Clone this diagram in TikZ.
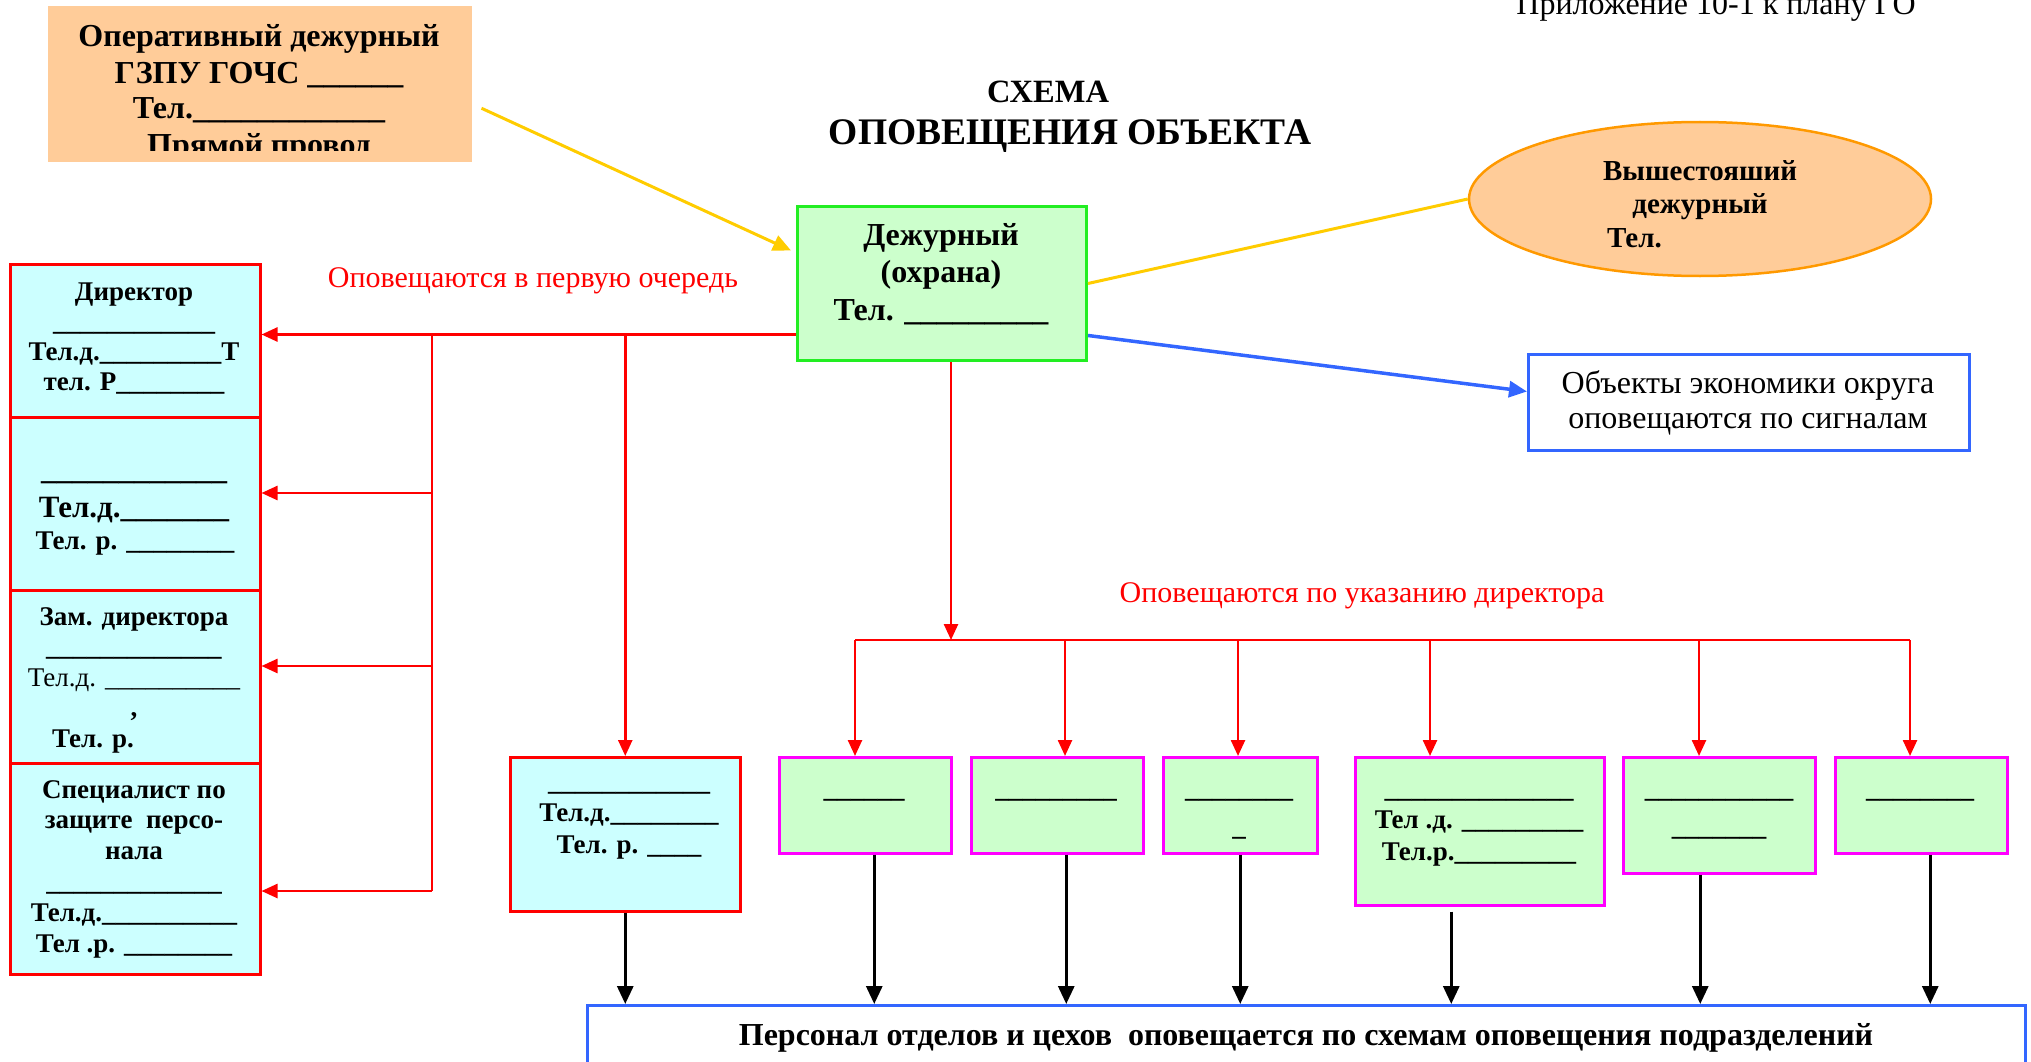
\documentclass[tikz,border=0pt]{standalone}
\usepackage{fontspec}
\setmainfont{Liberation Serif}
\usetikzlibrary{arrows.meta,shapes.geometric}
\definecolor{cOrange}{HTML}{FFCC99}
\definecolor{cOrangeLine}{HTML}{FF9900}
\definecolor{cGreen}{HTML}{CCFFCC}
\definecolor{cGreenLine}{HTML}{22EE22}
\definecolor{cCyan}{HTML}{CCFFFF}
\definecolor{cRed}{HTML}{FF0000}
\definecolor{cMag}{HTML}{FF00FF}
\definecolor{cBlue}{HTML}{3366FF}
\definecolor{cYellow}{HTML}{FFCC00}
\newcommand\fsz[2]{\fontsize{#1}{#2}\selectfont}
\ExplSyntaxOn
\newcommand\blanks[1]{\prg_replicate:nn{#1}{\textunderscore}}
\ExplSyntaxOff
\begin{document}
\begin{tikzpicture}[x=1pt,y=-1pt,
  box/.style={draw, line width=2.5pt, inner sep=0pt, anchor=north west},
  cbox/.style={box, draw=cRed, fill=cCyan},
  gbox/.style={box, draw=cMag, fill=cGreen},
  txt/.style={inner sep=0pt, anchor=base, align=center},
  redln/.style={draw=cRed, line width=2.5pt},
  redar/.style={redln, -{Triangle[length=16pt,width=14pt]}},
  blkar/.style={draw=black, line width=3pt, -{Triangle[length=18pt,width=16pt]}},
  yelln/.style={draw=cYellow, line width=3pt},
  bluar/.style={draw=cBlue, line width=3.5pt, -{Triangle[length=18pt,width=16pt]}}]
\useasboundingbox (0,0) rectangle (2031,1062);

% header box
\node[box, draw=none, fill=cOrange, minimum width=424, minimum height=156] (gzpu) at (47,5) {};
\begin{scope}
  \clip (47,5) rectangle (471,150);
  \node[txt, font=\bfseries\fsz{32}{36}] (gzpu-t) at (259,155) {Оперативный дежурный\\ГЗПУ ГОЧС \blanks{6}\\Тел.\blanks{12}\\Прямой провод};
\end{scope}

% titles
\node[txt, font=\bfseries\fsz{32.5}{36}] (t1) at (1048,103) {СХЕМА};
\node[txt, font=\bfseries\fsz{37.5}{42}] (t2) at (1070,144) {ОПОВЕЩЕНИЯ ОБЪЕКТА};
\node[txt, font=\fsz{32}{36}] (app) at (1716,15) {Приложение 10-1 к плану ГО};

% duty
\node[box, draw=cGreenLine, line width=3pt, fill=cGreen, minimum width=289, minimum height=154] (duty) at (796,205) {};
\node[txt, font=\bfseries\fsz{32}{37.5}] (duty-t) at (941,320) {Дежурный\\(охрана)\\Тел. \blanks{9}};

% upper duty ellipse
\node[ellipse, draw=cOrangeLine, fill=cOrange, line width=2.5pt, minimum width=462, minimum height=154, inner sep=0pt] (upper) at (1700,199) {};
\node[txt, font=\bfseries\fsz{29}{33}] (upper-t) at (1700,213) {Вышестояший\\дежурный};
\node[txt, anchor=base west, font=\bfseries\fsz{29}{33}] (upper-tel) at (1607,247) {Тел.};

% objects
\node[box, draw=cBlue, line width=3pt, minimum width=441, minimum height=96] (obj) at (1527,353) {};
\node[txt, font=\fsz{32}{35}] (obj-t) at (1748,428) {Объекты экономики округа\\оповещаются по сигналам};

% red labels
\node[txt, text=cRed, font=\fsz{30}{34}] (lab1) at (533,287) {Оповещаются в первую очередь};
\node[txt, text=cRed, font=\fsz{30}{34}] (lab2) at (1362,602) {Оповещаются по указанию директора};

% left column
\node[cbox, minimum width=250, minimum height=153] (lA) at (9,263) {};
\node[cbox, minimum width=250, minimum height=173] (lB) at (9,416) {};
\node[cbox, minimum width=250, minimum height=173] (lC) at (9,589) {};
\node[cbox, minimum width=250, minimum height=211] (lD) at (9,762) {};
\node[txt, font=\bfseries\fsz{27}{30}] (lA-t) at (134,390) {Директор\\\blanks{12}\\Тел.д.\blanks{9}Т\\тел. Р\blanks{8}};
\node[txt, font=\bfseries\fsz{31}{38}] (lB-t1) at (134,517) {\blanks{12}\\Тел.д.\blanks{7}};
\node[txt, font=\bfseries\fsz{27}{30}] (lB-t2) at (135,549) {Тел. р. \blanks{8}};
\node[txt, font=\bfseries\fsz{27}{30.5}] (lC-t) at (134,716.5) {Зам. директора\\\blanks{13}\\{\mdseries Тел.д. \blanks{10}}\\,};
\node[txt, anchor=base west, font=\bfseries\fsz{27}{30}] (lC-t2) at (52,747) {Тел. р.};
\node[txt, font=\bfseries\fsz{27}{30.8}] (lD-t) at (134,952) {Специалист по\\защите\ \ персо-\\нала\\\blanks{13}\\Тел.д.\blanks{10}\\Тел .р. \blanks{8}};

% cyan box bottom
\node[cbox, minimum width=230, minimum height=154] (lE) at (509,756) {};
\node[txt, font=\bfseries\fsz{27}{31.5}] (lE-t) at (629,853) {\blanks{12}\\Тел.д.\blanks{8}\\Тел. р. \blanks{4}};

% green boxes
\node[gbox, minimum width=172, minimum height=96] (g1) at (778,756) {};
\node[gbox, minimum width=172, minimum height=96] (g2) at (970,756) {};
\node[gbox, minimum width=154, minimum height=96] (g3) at (1162,756) {};
\node[gbox, minimum width=249, minimum height=148] (g4) at (1354,756) {};
\node[gbox, minimum width=192, minimum height=116] (g5) at (1622,756) {};
\node[gbox, minimum width=172, minimum height=96] (g6) at (1834,756) {};
\node[txt, font=\bfseries\fsz{27}{38}] (g1-t) at (864,797) {\blanks{6}};
\node[txt, font=\bfseries\fsz{27}{38}] (g2-t) at (1056,797) {\blanks{9}};
\node[txt, font=\bfseries\fsz{27}{38}] (g3-t) at (1239,835) {\blanks{8}\\\textunderscore};
\node[txt, font=\bfseries\fsz{27}{31.5}] (g4-t) at (1479,860) {\blanks{14}\\Тел .д. \blanks{9}\\Тел.р.\blanks{9}};
\node[txt, font=\bfseries\fsz{27}{38}] (g5-t) at (1719,835) {\blanks{11}\\\blanks{7}};
\node[txt, font=\bfseries\fsz{27}{38}] (g6-t) at (1920,797) {\blanks{8}};

% bottom box
\node[box, draw=cBlue, line width=3pt, minimum width=1438, minimum height=100] (pers) at (586,1004) {};
\node[txt, font=\bfseries\fsz{32}{36}] (pers-t) at (1306,1045) {Персонал отделов и цехов\ \ оповещается по схемам оповещения подразделений};

% connectors: first priority
\coordinate (rA) at ([yshift=-51pt]duty.west);
\draw[redar] (rA) -- (rA -| lA.east);
\coordinate (bus1) at (432,333);
\coordinate (bus2) at (432,493);
\coordinate (bus3) at (432,666);
\coordinate (bus4) at (432,891);
\draw[redln] (bus1) -- (bus4);
\draw[redar] (bus2) -- (bus2 -| lB.east);
\draw[redar] (bus3) -- (bus3 -| lC.east);
\draw[redar] (bus4) -- (bus4 -| lD.east);
\draw[redar] (rA -| lE.north) -- (lE.north);

% connectors: by director's order
\coordinate (dn) at (951,640);
\draw[redar] (duty.south -| dn) -- (dn);
\coordinate (d1) at (855,640);
\coordinate (d2) at (1065,640);
\coordinate (d3) at (1238,640);
\coordinate (d4) at (1430,640);
\coordinate (d5) at (1699,640);
\coordinate (d6) at (1910,640);
\draw[redln] (d1) -- (d6);
\draw[redar] (d1) -- (d1 |- g1.north);
\draw[redar] (d2) -- (d2 |- g2.north);
\draw[redar] (d3) -- (d3 |- g3.north);
\draw[redar] (d4) -- (d4 |- g4.north);
\draw[redar] (d5) -- (d5 |- g5.north);
\draw[redar] (d6) -- (d6 |- g6.north);

% black arrows to personnel
\draw[blkar] (lE.south) -- (lE.south |- pers.north);
\draw[blkar] ([xshift=9pt]g1.south) -- ([xshift=9pt]g1.south |- pers.north);
\draw[blkar] ([xshift=9pt]g2.south) -- ([xshift=9pt]g2.south |- pers.north);
\draw[blkar] (g3.south) -- (g3.south |- pers.north);
\draw[blkar] ([xshift=-28.5pt,yshift=-5pt]g4.south) -- ([xshift=-28.5pt]g4.south |- pers.north);
\draw[blkar] ([xshift=-19pt]g5.south) -- ([xshift=-19pt]g5.south |- pers.north);
\draw[blkar] ([xshift=9pt]g6.south) -- ([xshift=9pt]g6.south |- pers.north);

% other connectors
\draw[yelln, -{Triangle[length=18pt,width=16pt]}] ([xshift=8pt,yshift=-24pt]gzpu.east) -- ([xshift=-5pt,yshift=33pt]duty.west);
\draw[yelln] (duty.east) -- (upper.west);
\draw[bluar] ([yshift=-52pt]duty.east) -- ([yshift=11pt]obj.west);
\end{tikzpicture}
\end{document}
